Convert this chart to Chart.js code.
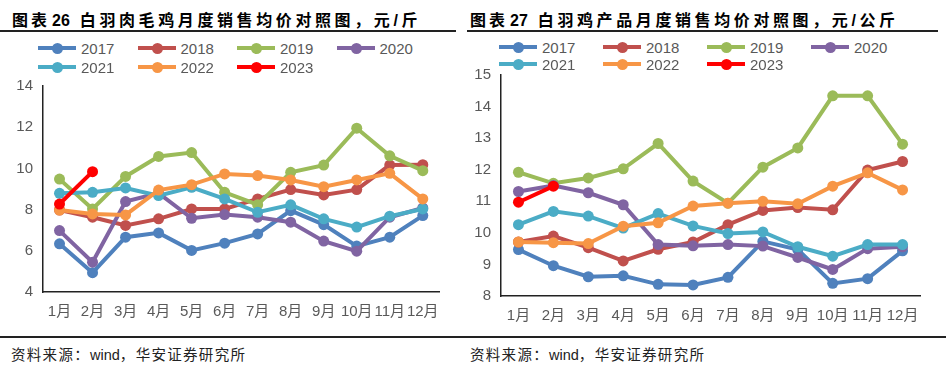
<!DOCTYPE html>
<html>
<head>
<meta charset="utf-8">
<script src="https://cdn.jsdelivr.net/npm/chart.js@4.4.0/dist/chart.umd.min.js"></script>
<style>
  body { margin: 0; width: 946px; height: 384px; background: #fff; position: relative; overflow: hidden;
         font-family: "Liberation Sans", Arial, "Noto Sans CJK SC", sans-serif; }
  .title { position: absolute; top: 7px; font-family: "Liberation Sans", "Noto Sans CJK SC", sans-serif;
           font-weight: 700; font-size: 16px; letter-spacing: 3.6px; color: #000; white-space: nowrap; }
  .title .h { letter-spacing: 3px; }
  .title .n { letter-spacing: 0; margin-left: 2px; }
  .title .t { margin-left: 10px; }
  .rule { position: absolute; height: 2px; background: #222; }
  .src { position: absolute; top: 343px; font-size: 14.5px; color: #222; white-space: nowrap; letter-spacing: 1.3px;
         font-family: "Noto Sans CJK SC", sans-serif; }
  .src b { font-weight: 400; font-family: "Liberation Sans", Arial, sans-serif; letter-spacing: 0; }
  .legend { position: absolute; z-index: 2; }
  .item { position: absolute; height: 18px; display: flex; align-items: center; font-size: 15px; color: #595959; }
  .sw { position: relative; width: 38px; height: 4px; margin-right: 5px; }
  .sw i { position: absolute; left: 14px; top: -3.5px; width: 11px; height: 11px; border-radius: 50%; }
  .box { position: absolute; }
</style>
</head>
<body>
<div class="title" style="left:12px"><span class="h">图表</span><span class="n">26</span><span class="t">白羽肉毛鸡月度销售均价对照图，元/斤</span></div>
<div class="title" style="left:470px"><span class="h">图表</span><span class="n">27</span><span class="t">白羽鸡产品月度销售均价对照图，元/公斤</span></div>
<div class="rule" style="left:0;width:456px;top:30px"></div>
<div class="rule" style="left:467px;width:471px;top:30px"></div>
<div class="rule" style="left:0;width:946px;top:336px"></div>
<div class="src" style="left:11px">资料来源：<b>wind</b>，华安证券研究所</div>
<div class="src" style="left:470px">资料来源：<b>wind</b>，华安证券研究所</div>

<div class="box" style="left:0;top:67px;width:450px;height:265px"><canvas id="chartL"></canvas></div>
<div class="box" style="left:458px;top:56px;width:478px;height:280px"><canvas id="chartR"></canvas></div>

<div class="legend" id="legL" style="left:38px;top:39px"></div>
<div class="legend" id="legR" style="left:499px;top:38px"></div>

<script>
const months = ['1月', '2月', '3月', '4月', '5月', '6月', '7月', '8月', '9月', '10月', '11月', '12月'];
const years = ['2017', '2018', '2019', '2020', '2021', '2022', '2023'];
const colors = ['#4F81BD', '#C0504D', '#9BBB59', '#8064A2', '#4BACC6', '#F79646', '#FF0000'];

// 图表26 白羽肉毛鸡 元/斤
const live2017 = [6.34, 4.94, 6.66, 6.87, 6.02, 6.37, 6.82, 7.95, 7.27, 6.23, 6.66, 7.71];
const live2018 = [7.98, 7.63, 7.23, 7.55, 8.03, 8.03, 8.52, 8.97, 8.71, 8.97, 10.16, 10.18];
const live2019 = [9.48, 8.03, 9.61, 10.58, 10.77, 8.84, 8.24, 9.81, 10.16, 11.95, 10.61, 9.89];
const live2020 = [6.98, 5.45, 8.39, 8.80, 7.58, 7.76, 7.63, 7.39, 6.47, 5.98, 7.63, 8.08];
const live2021 = [8.79, 8.84, 9.05, 8.68, 9.08, 8.52, 7.87, 8.23, 7.55, 7.15, 7.68, 8.03];
const live2022 = [7.98, 7.79, 7.74, 8.95, 9.21, 9.73, 9.65, 9.44, 9.11, 9.44, 9.76, 8.52];
const live2023 = [8.27, 9.84];

// 图表27 白羽鸡产品 元/公斤
const prod2017 = [9.47, 8.96, 8.61, 8.64, 8.37, 8.35, 8.59, 9.73, 9.47, 8.40, 8.55, 9.43];
const prod2018 = [9.71, 9.90, 9.53, 9.11, 9.48, 9.71, 10.26, 10.71, 10.80, 10.73, 11.99, 12.26];
const prod2019 = [11.92, 11.57, 11.74, 12.03, 12.83, 11.64, 10.94, 12.08, 12.69, 14.34, 14.34, 12.81];
const prod2020 = [11.31, 11.50, 11.27, 10.89, 9.63, 9.59, 9.63, 9.58, 9.22, 8.84, 9.50, 9.56];
const prod2021 = [10.26, 10.68, 10.53, 10.15, 10.61, 10.22, 9.98, 10.03, 9.56, 9.26, 9.63, 9.63];
const prod2022 = [9.71, 9.69, 9.66, 10.21, 10.32, 10.85, 10.94, 11.00, 10.92, 11.48, 11.90, 11.36];
const prod2023 = [10.97, 11.48];

const liveSeries = [live2017, live2018, live2019, live2020, live2021, live2022, live2023];
const prodSeries = [prod2017, prod2018, prod2019, prod2020, prod2021, prod2022, prod2023];

const tickFont = { family: '"Liberation Sans", Arial, "Noto Sans CJK SC", sans-serif', size: 15 };

function buildLegend(id, colW, rowH) {
  const el = document.getElementById(id);
  years.forEach((y, i) => {
    const it = document.createElement('div');
    it.className = 'item';
    it.style.left = (i % 4) * colW + 'px';
    it.style.top = Math.floor(i / 4) * rowH + 'px';
    it.innerHTML = '<span class="sw" style="background:' + colors[i] + '"><i style="background:' + colors[i] + '"></i></span>' + y;
    el.appendChild(it);
  });
}
buildLegend('legL', 99.5, 19);
buildLegend('legR', 104, 17);

function makeChart(id, series, yMin, yMax, yStep, padRight, xHeight) {
  new Chart(document.getElementById(id), {
    type: 'line',
    data: {
      labels: months,
      datasets: series.map((d, i) => ({
        label: years[i],
        data: d,
        borderColor: colors[i],
        backgroundColor: colors[i],
        borderWidth: 4,
        pointRadius: 5.5,
        pointBorderWidth: 0,
        pointHoverRadius: 5.5,
        tension: 0,
        order: -i
      }))
    },
    options: {
      responsive: true,
      maintainAspectRatio: false,
      animation: false,
      layout: { padding: { top: 0, right: padRight, left: 0, bottom: 0 } },
      plugins: { legend: { display: false }, tooltip: { enabled: false } },
      scales: {
        x: {
          offset: true,
          grid: { display: false, drawTicks: false },
          border: { display: true, color: '#222', width: 1.5 },
          ticks: { color: '#595959', font: tickFont, padding: 11, maxRotation: 0, autoSkip: false },
          afterFit: s => { s.height = xHeight; }
        },
        y: {
          min: yMin, max: yMax,
          grid: { display: false, drawTicks: false },
          border: { display: true, color: '#222', width: 1.5 },
          ticks: { stepSize: yStep, color: '#595959', font: tickFont, padding: 10 },
          afterFit: s => { s.width = 43; }
        }
      }
    }
  });
}

makeChart('chartL', liveSeries, 4, 14, 2, 9, 40);
makeChart('chartR', prodSeries, 8, 15, 1, 16, 40);
</script>
</body>
</html>
